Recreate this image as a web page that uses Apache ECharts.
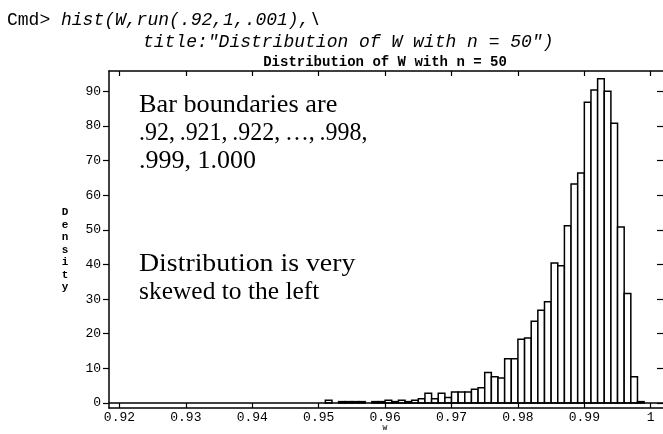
<!DOCTYPE html>
<html>
<head>
<meta charset="utf-8">
<script src="https://cdn.jsdelivr.net/npm/echarts@6/dist/echarts.min.js"></script>
<style>html,body{margin:0;padding:0;background:#fff}#c{width:663px;height:434px}</style>
</head>
<body>
<div id="c"></div>
<script>
// Bin boundaries (lower edge of each bar, plus final upper edge)
var binEdges = [
  0.920,0.921,0.922,0.923,0.924,0.925,0.926,0.927,0.928,0.929,
  0.930,0.931,0.932,0.933,0.934,0.935,0.936,0.937,0.938,0.939,
  0.940,0.941,0.942,0.943,0.944,0.945,0.946,0.947,0.948,0.949,
  0.950,0.951,0.952,0.953,0.954,0.955,0.956,0.957,0.958,0.959,
  0.960,0.961,0.962,0.963,0.964,0.965,0.966,0.967,0.968,0.969,
  0.970,0.971,0.972,0.973,0.974,0.975,0.976,0.977,0.978,0.979,
  0.980,0.981,0.982,0.983,0.984,0.985,0.986,0.987,0.988,0.989,
  0.990,0.991,0.992,0.993,0.994,0.995,0.996,0.997,0.998,0.999,
  1.000
];
// Density of each bar
var density = [
  0,0,0,0,0,0,0,0,0,0,
  0,0,0,0,0,0,0,0,0,0,
  0,0,0,0,0,0,0,0,0,0,
  0,0.8,0,0.4,0.4,0.4,0.4,0,0.4,0.4,
  0.8,0.4,0.8,0.4,0.8,1.2,2.8,1.2,2.8,1.6,
  3.2,3.2,3.2,4.0,4.4,8.8,7.6,7.2,12.8,12.8,
  18.4,18.8,23.6,26.8,29.2,40.4,39.6,51.2,63.2,66.4,
  86.8,90.4,93.6,90.0,80.8,50.8,31.6,7.6,0.4,0
];
var xTicks = [0.92,0.93,0.94,0.95,0.96,0.97,0.98,0.99,1.00];
var yTicks = [0,10,20,30,40,50,60,70,80,90];
var titleText = 'Distribution of W with n = 50';
var xName = 'W';
var yName = 'Density';
var cmdLine1 = 'hist(W,run(.92,1,.001),\\';
var cmdLine2 = 'title:"Distribution of W with n = 50")';
var note1 = ['Bar boundaries are', '.92,\u2009.921,\u2009.922,\u2009\u2026,\u2009.998,', '.999, 1.000'];
var note2 = ['Distribution is very', 'skewed to the left'];

var data = [];
for (var i = 0; i < density.length; i++) {
  data.push([binEdges[i], binEdges[i + 1], density[i]]);
}

var chart = echarts.init(document.getElementById('c'), null, {renderer: 'canvas'});
var mono = 'Liberation Mono';
var serif = 'Liberation Serif';
var xMin = 0.918425, xMax = 1.001845, yMin = -1.44, yMax = 95.85;

function noteLine(txt, top, sx) {
  return {type: 'text', x: 139, y: top, scaleX: sx, z: 10,
    style: {text: txt, fontFamily: serif, fontSize: 26, fill: '#000', verticalAlign: 'middle'}};
}

chart.setOption({
  animation: false,
  backgroundColor: '#fff',
  grid: {left: 109, top: 71, width: 556, height: 337, containLabel: false},
  xAxis: [{
    type: 'value', position: 'bottom', min: xMin, max: xMax,
    axisLine: {show: true, onZero: false, lineStyle: {color: '#000', width: 1.5}},
    axisTick: {show: true, inside: true, length: 5, lineStyle: {color: '#000', width: 1.2}, customValues: xTicks},
    axisLabel: {show: true, customValues: xTicks, margin: 3, color: '#000', fontFamily: mono, fontSize: 13,
      formatter: function (v) { return Math.abs(v - 1) < 1e-9 ? '1' : v.toFixed(2); }},
    splitLine: {show: false}
  }, {
    type: 'value', position: 'top', min: xMin, max: xMax,
    axisLine: {show: true, onZero: false, lineStyle: {color: '#000', width: 1.5}},
    axisTick: {show: true, inside: true, length: 5, lineStyle: {color: '#000', width: 1.2}, customValues: xTicks},
    axisLabel: {show: false},
    splitLine: {show: false}
  }],
  yAxis: [{
    type: 'value', position: 'left', min: yMin, max: yMax,
    axisLine: {show: true, onZero: false, lineStyle: {color: '#000', width: 1.5}},
    axisTick: {show: true, inside: false, length: 6, lineStyle: {color: '#000', width: 1.2}, customValues: yTicks},
    axisLabel: {show: true, customValues: yTicks, margin: 8, color: '#000', fontFamily: mono, fontSize: 13},
    splitLine: {show: false}
  }, {
    type: 'value', position: 'right', min: yMin, max: yMax,
    axisLine: {show: false, onZero: false},
    axisTick: {show: true, inside: true, length: 6, lineStyle: {color: '#000', width: 1.2}, customValues: yTicks},
    axisLabel: {show: false},
    splitLine: {show: false}
  }],
  series: [{
    type: 'custom',
    xAxisIndex: 0, yAxisIndex: 0,
    data: data,
    encode: {x: [0, 1], y: 2},
    renderItem: function (params, api) {
      var v = api.value(2);
      if (!(v > 0)) return null;
      var p0 = api.coord([api.value(0), v]);
      var p1 = api.coord([api.value(1), 0]);
      return {
        type: 'rect',
        shape: {x: p0[0], y: p0[1], width: p1[0] - p0[0], height: p1[1] - p0[1]},
        style: {fill: '#fff', stroke: '#000', lineWidth: 1.5}
      };
    },
    markLine: {
      silent: true, symbol: ['none', 'none'], label: {show: false},
      lineStyle: {color: '#000', width: 1.5, type: 'solid'},
      data: [{yAxis: 0}]
    },
    z: 3
  }],
  graphic: [
    {type: 'text', left: 7, top: 11, style: {
      text: '{n|Cmd> }{i|' + cmdLine1 + '}',
      rich: {n: {fontFamily: mono, fontSize: 18, fill: '#000'}, i: {fontFamily: mono, fontSize: 18, fontStyle: 'italic', fill: '#000'}}
    }},
    {type: 'text', left: 143, top: 33, style: {text: cmdLine2, fontFamily: mono, fontSize: 18, fontStyle: 'italic', fill: '#000'}},
    {type: 'text', x: 385, y: 62, style: {text: titleText, fontFamily: mono, fontSize: 14, fontWeight: 'bold', fill: '#000', align: 'center', verticalAlign: 'middle'}},
    {type: 'text', x: 65, y: 250, style: {text: yName.split('').join('\n'), fontFamily: mono, fontSize: 11, fontWeight: 'bold', lineHeight: 12.5, fill: '#000', align: 'center', verticalAlign: 'middle'}},
    {type: 'text', x: 385, y: 428, style: {text: xName, fontFamily: mono, fontSize: 8, fill: '#000', align: 'center', verticalAlign: 'middle'}},
    noteLine(note1[0], 105, 1.01),
    noteLine(note1[1], 133, 0.92),
    noteLine(note1[2], 161.5, 1.0),
    noteLine(note2[0], 264, 1.07),
    noteLine(note2[1], 292.5, 0.98)
  ]
});
</script>
</body>
</html>
